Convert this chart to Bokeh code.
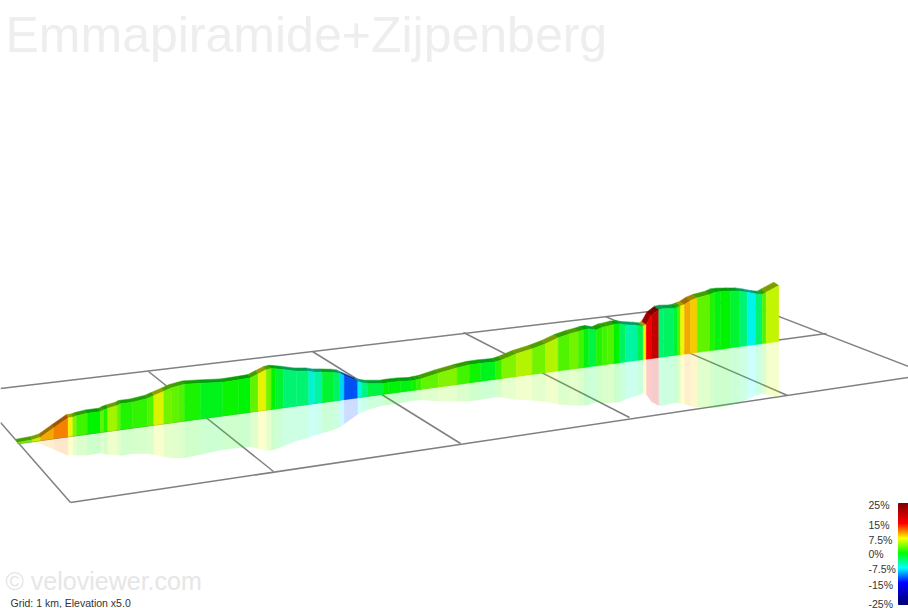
from bokeh.plotting import figure
from bokeh.embed import file_html
from bokeh.resources import INLINE
from bokeh.core.properties import value
import numpy as np

title_text = "Emmapiramide+Zijpenberg"
credit_text = "\u00a9 veloviewer.com"
grid_text = "Grid: 1 km, Elevation x5.0"

route_x = [17.0, 31.7, 40.0, 53.3, 67.7, 72.3, 76.0, 86.7, 100.0, 103.3,
           107.3, 116.7, 120.0, 131.7, 146.7, 153.3, 163.3, 171.0, 178.3, 184.0,
           200.0, 222.3, 238.3, 250.0, 257.7, 265.7, 270.7, 275.0, 282.7, 296.0,
           308.3, 314.3, 321.7, 333.3, 339.0, 343.7, 357.3, 361.0, 367.3, 382.7,
           388.3, 400.0, 411.0, 415.7, 420.7, 437.7, 456.7, 469.0, 480.0, 495.0,
           501.3, 515.7, 531.7, 545.0, 557.7, 569.3, 577.7, 583.3, 588.3, 595.7,
           601.7, 606.7, 613.3, 619.3, 625.0, 636.7, 642.7, 645.7, 650.7, 658.3,
           663.3, 673.3, 677.3, 680.0, 684.0, 690.0, 696.7, 709.3, 714.3, 720.0,
           730.0, 739.3, 746.7, 755.0, 761.7, 765.7, 778.3]
route_top = [442.0, 439.3, 436.7, 427.3, 417.3, 416.7, 415.3, 412.7, 411.0, 409.3,
             407.7, 405.0, 403.3, 401.7, 398.0, 395.0, 390.7, 387.3, 385.3, 383.7,
             382.7, 381.7, 379.3, 377.3, 373.3, 369.3, 368.0, 368.3, 369.0, 370.7,
             370.7, 371.7, 371.7, 372.0, 372.7, 375.0, 381.0, 382.0, 383.0, 383.0,
             382.0, 380.7, 380.3, 379.3, 378.3, 372.7, 367.3, 364.3, 362.7, 361.3,
             359.3, 353.3, 348.3, 343.3, 337.3, 333.3, 331.0, 329.3, 328.3, 329.5,
             326.7, 325.7, 324.0, 323.3, 324.3, 325.0, 325.7, 324.0, 315.0, 309.0,
             308.0, 307.7, 306.7, 305.5, 304.0, 300.0, 297.3, 294.0, 291.7, 291.0,
             290.7, 290.7, 291.7, 293.3, 294.0, 291.7, 285.0]
seg_grade = [3.5, 6, 9.8, 11, 7.5, 4, 2, 0, 3, 1,
             5, 3, 1, 1.5, 2.5, 6.7, 3.5, 3, 2.5, 0.8,
             -0.8, 0.3, -0.2, 3, 7, 3.5, 0, -1.5, -3.5, -3.5,
             -6.5, -5, -1.5, -3, -8.5, -12.5, -7, -4, -2, 0,
             -0.3, -0.5, 0.5, 1.5, 3, 4, 2, 0.5, -0.8, 1.5,
             4, 5.5, 3.5, 5.5, 2.5, 3.5, 2, -0.5, -2, 1,
             2, 2.5, 0, -3, -5, -2.5, 7.5, 15, 19, -3.5,
             -3, -1.5, 2.5, 7.5, 9.8, 8.7, 3, 1, -0.5, 0,
             -1.5, -3.5, -7.2, -3.5, 2.5, 6]

# ground line of the wall (picture units)
base_x = [17.0, 779.0]
base_y = [443.0, 341.0]

grid_x0 = [0, 0, 70, 17, 148, 312, 463, 605, 742]
grid_y0 = [388, 422, 502, 443, 371, 351, 332, 316, 302]
grid_x1 = [742, 70, 908, 826, 273, 460, 629, 787, 908]
grid_y1 = [300, 502, 377, 333, 471, 443, 417, 395, 366]

legend_labels = ["25%", "15%", "7.5%", "0%", "-7.5%", "-15%", "-25%"]
legend_label_y = [504, 524, 539, 553, 568, 584, 603]

stop_grades = [-25, -15, -7.5, 0, 7.5, 15, 25]
stop_r = [0, 0, 0, 0, 255, 255, 128]
stop_g = [0, 0, 255, 255, 255, 0, 0]
stop_b = [128, 255, 255, 0, 0, 0, 0]


def grade_rgb(g):
    return (np.interp(g, stop_grades, stop_r),
            np.interp(g, stop_grades, stop_g),
            np.interp(g, stop_grades, stop_b))


def hex_of(g, k=1.0):
    r, gg, b = grade_rgb(g)
    return "#%02x%02x%02x" % (int(r * k), int(gg * k), int(b * k))


xs = np.array(route_x)
tops = np.array(route_top)
bases = np.interp(xs, base_x, base_y)
heights = bases - tops
refl = bases + heights
back_dx = 1.5 + 3.5 * (xs - base_x[0]) / (base_x[1] - base_x[0])
back_dy = 3.3

wall_xs, wall_ys, refl_xs, refl_ys, roof_xs, roof_ys = [], [], [], [], [], []
wall_c, roof_c, refl_c = [], [], []
for i, g in enumerate(seg_grade):
    a, b = i, i + 1
    wall_xs.append([xs[a], xs[b], xs[b], xs[a]])
    wall_ys.append([tops[a], tops[b], bases[b], bases[a]])
    refl_xs.append([xs[a], xs[b], xs[b], xs[a]])
    refl_ys.append([bases[a], bases[b], refl[b], refl[a]])
    roof_xs.append([xs[a], xs[b], xs[b] - back_dx[b], xs[a] - back_dx[a]])
    roof_ys.append([tops[a], tops[b], tops[b] - back_dy, tops[a] - back_dy])
    wall_c.append(hex_of(g, 0.96))
    roof_c.append(hex_of(g, 0.62))
    refl_c.append(hex_of(g))

p = figure(width=908, height=608, x_range=(0, 908), y_range=(608, 0),
           output_backend="svg", toolbar_location=None, min_border=0,
           outline_line_color=None,
           background_fill_color="white", border_fill_color="white")
p.xaxis.visible = False
p.yaxis.visible = False
p.grid.visible = False

p.segment(grid_x0, grid_y0, grid_x1, grid_y1, line_color="#808080", line_width=1.5)

p.patches(refl_xs, refl_ys, fill_color=refl_c, fill_alpha=0.2, line_color=None)
p.patches(roof_xs, roof_ys, fill_color=roof_c, line_color=roof_c, line_width=0.5)
p.patches(wall_xs, wall_ys, fill_color=wall_c, line_color=wall_c, line_width=0.4)

# colour scale: rows overlap so that no white shows between them
bar_g = np.linspace(25, -25, 100)
bar_c = [hex_of(g) for g in bar_g]
bar_top = 503 + np.arange(100)
p.quad(left=898, right=909, top=bar_top, bottom=bar_top + 2,
       fill_color=bar_c, fill_alpha=1.0, line_color=bar_c, line_width=1)

p.text([868] * len(legend_labels), legend_label_y, text=legend_labels,
       text_font=value("Liberation Sans"), text_font_size="10.5px",
       text_color="#333333", text_baseline="middle")
p.text([5], [34], text=[title_text], text_font=value("Liberation Sans"),
       text_font_size="50px", text_color="#eeeeee", text_baseline="middle")
p.text([5], [580], text=[credit_text], text_font=value("Liberation Sans"),
       text_font_size="25px", text_color="#e6e6e6", text_baseline="middle")
p.text([10], [602.5], text=[grid_text], text_font=value("Liberation Sans"),
       text_font_size="10.5px", text_color="#333333", text_baseline="middle")

open("out.html", "w").write(file_html(p, INLINE))
